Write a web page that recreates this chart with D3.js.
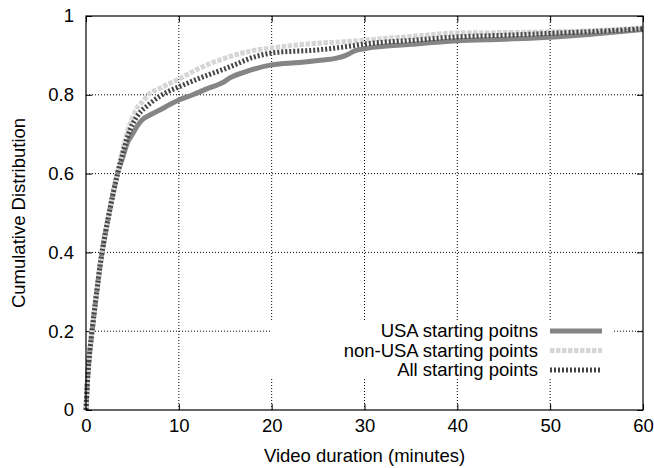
<!DOCTYPE html>
<html><head><meta charset="utf-8">
<script src="https://cdn.jsdelivr.net/npm/d3@7"></script>
<style>body{margin:0;background:#fff}svg{display:block}text{font-family:"Liberation Sans",Arial,sans-serif;fill:#000}</style>
</head><body>
<script>
const xTicks = [0,10,20,30,40,50,60];
const yTicks = [0,0.2,0.4,0.6,0.8,1];
const yTickLabels = ["0","0.2","0.4","0.6","0.8","1"];
const seriesNames = ["USA starting poitns","non-USA starting points","All starting points"];

const usaT = [0,0.1,0.3,0.65,1,1.6,2.5,3.4,4.0,4.5,5.0,5.5,6.0,7,8,9,10,11.5,13,15,15.5,17,20,23,25,27,28,29,30,35,40,45,50,55,60];
const usaF = [0,0.05,0.12,0.2,0.27,0.38,0.5,0.6,0.645,0.68,0.70,0.72,0.735,0.75,0.762,0.775,0.787,0.80,0.815,0.835,0.843,0.857,0.876,0.882,0.887,0.893,0.90,0.912,0.917,0.928,0.937,0.941,0.946,0.955,0.966];

const nonT = [0,0.1,0.3,0.65,1,1.6,2.5,3.4,4.0,4.5,4.9,5.6,6.0,6.7,8,10,12,15.5,18,20,25,28,30,35,40,45,50,55,60];
const nonF = [0,0.05,0.12,0.2,0.27,0.38,0.5,0.6,0.665,0.71,0.736,0.77,0.78,0.80,0.817,0.84,0.865,0.897,0.912,0.919,0.931,0.935,0.939,0.948,0.957,0.958,0.96,0.963,0.97];

const allT = [0,0.1,0.3,0.65,1,1.6,2.5,3.4,4.0,4.5,5.0,5.5,6.0,6.5,7,8,9,10,12,15.5,18,20,25,28,30,35,40,45,50,55,60];
const allF = [0,0.05,0.12,0.2,0.27,0.38,0.5,0.6,0.655,0.695,0.725,0.745,0.76,0.77,0.78,0.797,0.81,0.82,0.84,0.871,0.895,0.906,0.914,0.922,0.929,0.938,0.947,0.951,0.956,0.961,0.968];

const W=654,H=468;
const L=86,R=643,T=16,B=410;
const FS=18.5;
const svg=d3.select("body").append("svg").attr("width",W).attr("height",H);
const x=d3.scaleLinear().domain([0,60]).range([L,R]);
const y=d3.scaleLinear().domain([0,1]).range([B,T]);

// grid
const g=svg.append("g");
g.selectAll("line.vg").data(xTicks.slice(1,-1)).join("line")
 .attr("x1",d=>x(d)).attr("x2",d=>x(d)).attr("y1",B).attr("y2",T)
 .attr("stroke","#000").attr("stroke-width",1).attr("stroke-dasharray","1,2");
g.selectAll("line.hg").data(yTicks.slice(1,-1)).join("line")
 .attr("y1",d=>y(d)).attr("y2",d=>y(d)).attr("x1",L).attr("x2",R)
 .attr("stroke","#000").attr("stroke-width",1).attr("stroke-dasharray","1,2");

// legend background (opaque)
svg.append("rect").attr("x",270).attr("y",322).attr("width",342).attr("height",55).attr("fill","#fff");

// axes with inward ticks
const ax=svg.append("g");
ax.append("g").attr("transform",`translate(0,${B})`)
 .call(d3.axisBottom(x).tickValues(xTicks).tickSize(-6).tickPadding(9).tickFormat(d3.format("d")))
 .call(s=>{s.select(".domain").remove();s.selectAll("text").attr("font-size",FS).attr("font-family","Liberation Sans, Arial, sans-serif");});
ax.append("g").attr("transform",`translate(0,${T})`)
 .call(d3.axisTop(x).tickValues(xTicks).tickSize(-6).tickFormat(""))
 .call(s=>s.select(".domain").remove());
ax.append("g").attr("transform",`translate(${L},0)`)
 .call(d3.axisLeft(y).tickValues(yTicks).tickSize(-6).tickPadding(12).tickFormat((d,i)=>yTickLabels[i]))
 .call(s=>{s.select(".domain").remove();s.selectAll("text").attr("font-size",FS).attr("font-family","Liberation Sans, Arial, sans-serif");});
ax.append("g").attr("transform",`translate(${R},0)`)
 .call(d3.axisRight(y).tickValues(yTicks).tickSize(-6).tickFormat(""))
 .call(s=>s.select(".domain").remove());

// curves
const line=d3.line().x(d=>x(d[0])).y(d=>y(d[1])).curve(d3.curveMonotoneX);
const styles=[
 {t:usaT,f:usaF,color:"#858585",dash:null},
 {t:nonT,f:nonF,color:"#d6d6d6",dash:"4.5,1.5"},
 {t:allT,f:allF,color:"#454545",dash:"2,2"}
];
styles.forEach(s=>{
 svg.append("path").datum(s.t.map((t,i)=>[t,s.f[i]]))
  .attr("d",line).attr("fill","none").attr("stroke",s.color).attr("stroke-width",5)
  .attr("stroke-dasharray",s.dash);
});

// border
svg.append("rect").attr("x",L).attr("y",T).attr("width",R-L).attr("height",B-T)
 .attr("fill","none").attr("stroke","#000").attr("stroke-width",1.2);

// legend
const ly=[331,350.5,370];
seriesNames.forEach((n,i)=>{
 svg.append("text").attr("x",538).attr("y",ly[i]).attr("dy","0.35em").attr("text-anchor","end")
  .attr("font-size",FS).text(n);
 svg.append("line").attr("x1",550).attr("x2",602).attr("y1",ly[i]).attr("y2",ly[i])
  .attr("stroke",styles[i].color).attr("stroke-width",5).attr("stroke-dasharray",styles[i].dash);
});

// titles
svg.append("text").attr("x",(L+R)/2).attr("y",462).attr("text-anchor","middle").attr("font-size",FS).text("Video duration (minutes)");
svg.append("text").attr("transform",`translate(25,${(T+B)/2}) rotate(-90)`).attr("text-anchor","middle").attr("font-size",FS).text("Cumulative Distribution");
</script>
</body></html>
